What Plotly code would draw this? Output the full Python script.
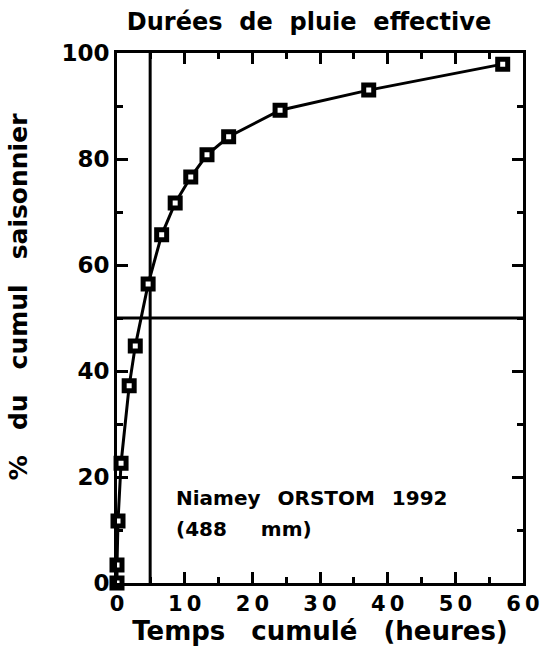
import plotly.graph_objects as go

# cumulative rain time (hours) vs % of seasonal total
temps = [0, 0, 0.15, 0.6, 1.8, 2.7, 4.6, 6.6, 8.6, 10.9, 13.3, 16.5, 24.1, 37.2, 57.0]
pct = [0, 3.4, 11.7, 22.6, 37.2, 44.7, 56.4, 65.7, 71.7, 76.6, 80.8, 84.2, 89.2, 93.0, 97.9]

x_ticks = [0, 10, 20, 30, 40, 50, 60]
x_ticktext = ['0', '1\u20090', '2\u20090', '3\u20090', '4\u20090', '5\u20090', '6\u20090']
y_ticks = [0, 20, 40, 60, 80, 100]

t50 = 4.9   # time for 50 %
p50 = 50

font = dict(family='DejaVu Sans, Liberation Sans, sans-serif', color='black', weight='bold')
sp = '\u2002 '   # wide gaps between words, like the original
sp_t = '\u2002\u2009'
sp2 = '\u2003'

fig = go.Figure()
fig.add_trace(go.Scatter(x=[t50, t50], y=[0, 100], mode='lines',
                         line=dict(color='black', width=3), hoverinfo='skip'))
fig.add_trace(go.Scatter(x=[0, 60], y=[p50, p50], mode='lines',
                         line=dict(color='black', width=3), hoverinfo='skip'))
fig.add_trace(go.Scatter(x=temps, y=pct, mode='lines+markers',
                         line=dict(color='black', width=3),
                         marker=dict(symbol='square', size=10, color='white',
                                     line=dict(color='black', width=5)),
                         cliponaxis=False))

fig.add_annotation(x=8.4, y=16.0, xref='x', yref='y', xanchor='left', yanchor='middle',
                   text='Niamey' + sp + 'ORSTOM' + sp + '1992',
                   showarrow=False, font=dict(font, size=20))
fig.add_annotation(x=8.4, y=10.2, xref='x', yref='y', xanchor='left', yanchor='middle',
                   text='(488' + sp + sp + 'mm)',
                   showarrow=False, font=dict(font, size=20))
# y title, a bit below the plot centre as in the original
fig.add_annotation(x=-0.243, y=54, xref='paper', yref='y', xanchor='center', yanchor='middle',
                   text='%' + sp2 + 'du' + sp2 + 'cumul' + sp2 + 'saisonnier', textangle=-90,
                   showarrow=False, font=dict(font, size=25))

fig.update_layout(
    width=546, height=661,
    margin=dict(l=117, r=23, t=53, b=78),
    paper_bgcolor='white', plot_bgcolor='white',
    showlegend=False,
    title=dict(text='Durées' + sp_t + 'de' + sp_t + 'pluie' + sp_t + 'effective',
               x=0.566, xanchor='center', y=0.967, yanchor='middle',
               font=dict(font, size=24)),
)
fig.update_xaxes(range=[0, 60], tickvals=x_ticks, ticktext=x_ticktext, automargin=False,
                 showgrid=False, zeroline=False,
                 showline=True, linecolor='black', linewidth=3, mirror='ticks',
                 ticks='inside', ticklen=11, tickwidth=3, tickcolor='black',
                 minor=dict(dtick=5, ticks='inside', ticklen=6, tickwidth=3, tickcolor='black'),
                 tickfont=dict(font, size=21),
                 title=dict(text='Temps' + sp2 + 'cumulé' + sp2 + '(heures)', standoff=5,
                            font=dict(font, size=26)))
fig.update_yaxes(range=[0, 100], tickvals=y_ticks, automargin=False,
                 showgrid=False, zeroline=False,
                 showline=True, linecolor='black', linewidth=3, mirror='ticks',
                 ticks='inside', ticklen=11, tickwidth=3, tickcolor='black',
                 minor=dict(dtick=10, ticks='inside', ticklen=6, tickwidth=3, tickcolor='black'),
                 tickfont=dict(font, size=23))

# drop the default 8px body margin so the figure sits in the page corner
fig.write_html('out.html', config={'displayModeBar': False},
               post_script="document.body.style.margin = '0';")
